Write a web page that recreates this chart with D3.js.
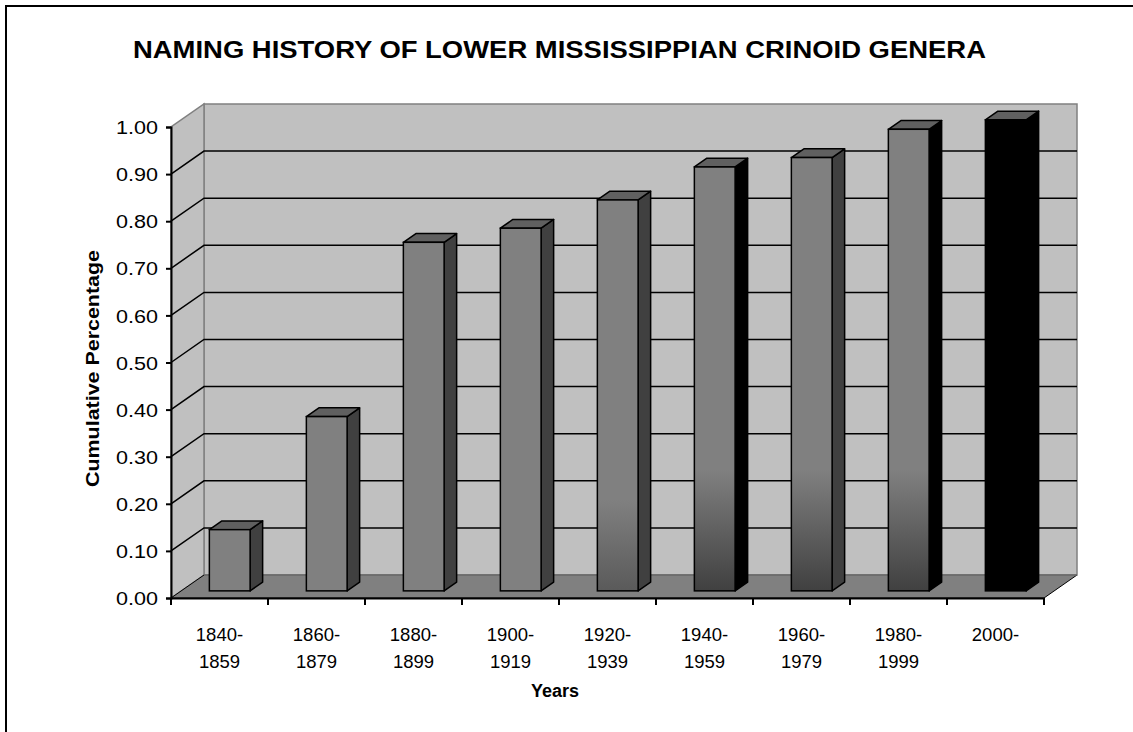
<!DOCTYPE html>
<html><head><meta charset="utf-8">
<script src="https://cdn.jsdelivr.net/npm/d3@7"></script>
<style>html,body{margin:0;padding:0;background:#fff;overflow:hidden}svg{display:block}text{font-family:"Liberation Sans",Arial,sans-serif;fill:#000}</style>
</head><body><svg id="c" width="1133" height="732"></svg>
<script>
const categories = ["1840-1859","1860-1879","1880-1899","1900-1919","1920-1939","1940-1959","1960-1979","1980-1999","2000-"];
const values = [0.13,0.37,0.74,0.77,0.83,0.90,0.92,0.98,1.00];
const yTicks = [0,0.1,0.2,0.3,0.4,0.5,0.6,0.7,0.8,0.9,1.0];
const title = "NAMING HISTORY OF LOWER MISSISSIPPIAN CRINOID GENERA";
const yTitle = "Cumulative Percentage";
const xTitle = "Years";

const svg = d3.select("#c");
const W=1133,H=732;
svg.append("rect").attr("x",6).attr("y",6).attr("width",W+20).attr("height",H+20)
  .attr("fill","#fff").attr("stroke","#000").attr("stroke-width",2);

const x = d3.scaleBand().domain(categories).range([171,1044]).paddingInner(0).paddingOuter(0);
const y = d3.scaleLinear().domain([0,1]).range([598,127]);
const DX=33, DY=-23;
const P = (px,py,z)=>[px+z*DX, py+z*DY];

const defs = svg.append("defs");
function grad(id, dark, startY){
  const g = defs.append("linearGradient").attr("id",id).attr("gradientUnits","userSpaceOnUse")
    .attr("x1",0).attr("x2",0).attr("y1",startY).attr("y2",591);
  g.append("stop").attr("offset",0).attr("stop-color","#808080");
  g.append("stop").attr("offset",1).attr("stop-color",dark);
}
grad("g5","#5a5a5a",500);
grad("g6","#404040",470);

const line = d3.line();
const y0=y(0), y1=y(1), xl=x.range()[0], xr=x.range()[1];
// back wall
svg.append("path").attr("d", line([P(xl,y0,1),P(xr,y0,1),P(xr,y1,1),P(xl,y1,1)])+"Z")
  .attr("fill","#c0c0c0").attr("stroke","#808080").attr("stroke-width",1.5);
// left wall
svg.append("path").attr("d", line([P(xl,y0,0),P(xl,y1,0),P(xl,y1,1),P(xl,y0,1)])+"Z")
  .attr("fill","#c0c0c0").attr("stroke","#808080").attr("stroke-width",1.5);
// gridlines
yTicks.filter(t=>t>0 && t<1).forEach(t=>{
  svg.append("path").attr("d", line([P(xl,y(t),0),P(xl,y(t),1),P(xr,y(t),1)]))
    .attr("fill","none").attr("stroke","#000").attr("stroke-width",1.5);
});
// floor
svg.append("path").attr("d", line([P(xl,y0,0),P(xr,y0,0),P(xr,y0,1),P(xl,y0,1)])+"Z")
  .attr("fill","#808080").attr("stroke","#000").attr("stroke-width",1);
svg.append("path").attr("d", line([P(xl,y0,1),P(xr,y0,1)])).attr("stroke","#999").attr("stroke-width",1.2);

// bars
const z0=0.31, z1=0.69, bw = x.bandwidth()*0.42;
const frontFill = i => i===8 ? "#000" : (i===4 ? "url(#g5)" : (i>=5 ? "url(#g6)" : "#808080"));
const sideFill = i => (i===5||i===7||i===8) ? "#000" : "#404040";
const bars = svg.append("g").selectAll("g").data(values).join("g");
bars.each(function(v,i){
  const g=d3.select(this);
  const xc = x(categories[i]) + x.bandwidth()/2;
  const [fx, fyt] = P(xc-bw/2, y(v), z0);
  const [, fyb] = P(0, y(0), z0);
  const ddx=(z1-z0)*DX, ddy=(z1-z0)*DY;
  g.append("path").attr("d", line([[fx+bw,fyt],[fx+bw+ddx,fyt+ddy],[fx+bw+ddx,fyb+ddy],[fx+bw,fyb]])+"Z")
    .attr("fill",sideFill(i)).attr("stroke","#000").attr("stroke-width",1.5).attr("stroke-linejoin","round");
  g.append("path").attr("d", line([[fx,fyt],[fx+bw,fyt],[fx+bw+ddx,fyt+ddy],[fx+ddx,fyt+ddy]])+"Z")
    .attr("fill","#606060").attr("stroke","#000").attr("stroke-width",1.5).attr("stroke-linejoin","round");
  g.append("rect").attr("x",fx).attr("y",fyt).attr("width",bw).attr("height",fyb-fyt)
    .attr("fill",frontFill(i)).attr("stroke","#000").attr("stroke-width",1.5);
});

// y axis
const yAxis = d3.axisLeft(y).tickValues(yTicks).tickFormat(d3.format(".2f")).tickSize(5).tickPadding(8);
const ya = svg.append("g").attr("transform",`translate(${xl},0)`).call(yAxis);
ya.select(".domain").attr("stroke","#000").attr("stroke-width",2);
ya.selectAll(".tick line").attr("stroke","#000").attr("stroke-width",2);
ya.selectAll(".tick text").attr("font-size",18.5).attr("font-family","Liberation Sans, Arial, sans-serif")
  .attr("dy","0.36em").attr("textLength",42).attr("lengthAdjust","spacingAndGlyphs");

// x axis
const xAxis = d3.axisBottom(x).tickSize(0).tickFormat("");
const xa = svg.append("g").attr("transform",`translate(0,${y0})`).call(xAxis);
xa.select(".domain").attr("stroke","#000").attr("stroke-width",2);
const edges = categories.map(c=>x(c)).concat([xr]);
xa.selectAll("line.edge").data(edges).join("line").attr("class","edge")
  .attr("x1",d=>d).attr("x2",d=>d).attr("y1",0).attr("y2",7).attr("stroke","#000").attr("stroke-width",2);
categories.forEach(c=>{
  const parts = c.split("-");
  const cx = x(c)+x.bandwidth()/2;
  const t = svg.append("text").attr("text-anchor","middle").attr("font-size",18.5);
  t.append("tspan").attr("x", cx).attr("y",641).text(parts[0]+"-");
  if(parts[1]) t.append("tspan").attr("x", cx).attr("y",668).text(parts[1]);
});

svg.append("text").attr("x",559.5).attr("y",58).attr("text-anchor","middle").attr("font-size",23).attr("font-weight","bold")
  .attr("textLength",853).attr("lengthAdjust","spacingAndGlyphs").text(title);
svg.append("text").attr("transform","translate(99,368.5) rotate(-90)").attr("text-anchor","middle").attr("font-size",18).attr("font-weight","bold")
  .attr("textLength",237).attr("lengthAdjust","spacingAndGlyphs").text(yTitle);
svg.append("text").attr("x",555).attr("y",697).attr("text-anchor","middle").attr("font-size",18).attr("font-weight","bold").text(xTitle);
</script></body></html>
